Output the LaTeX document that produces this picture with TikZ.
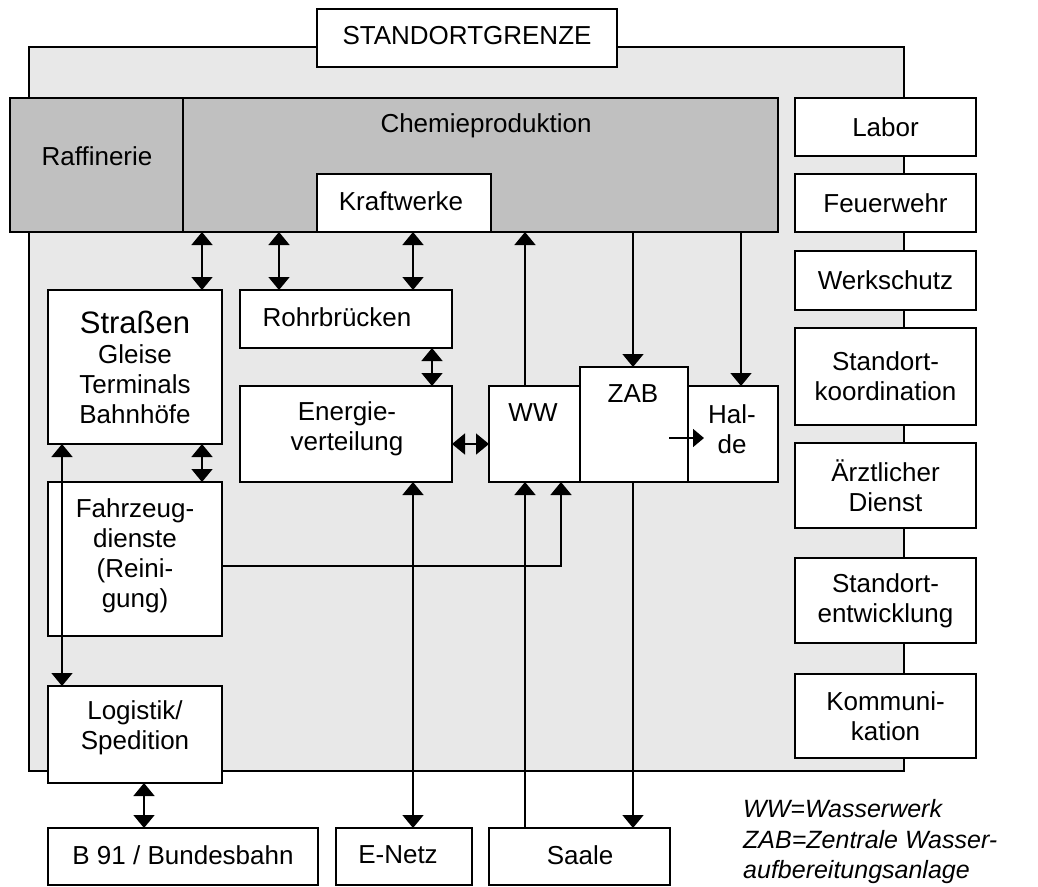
\documentclass[tikz,border=0pt]{standalone}
\usepackage{fontspec}
\setmainfont{Liberation Sans}
\usetikzlibrary{arrows.meta}
\definecolor{lgrey}{HTML}{E8E8E8}
\definecolor{dgrey}{HTML}{C0C0C0}
\newcommand\fs{\fontsize{26}{30}\selectfont}
\newcommand\fsbig{\fontsize{31}{33}\selectfont}
\newcommand\fsleg{\fontsize{25}{30.5}\selectfont\itshape}
\begin{document}
\begin{tikzpicture}[x=1pt,y=-1pt,
 box/.style={draw, line width=1.8pt, fill=white, inner sep=0pt, outer sep=0pt, align=center, font=\fs},
 dark/.style={box, fill=dgrey},
 region/.style={draw, line width=1.4pt, fill=lgrey, inner sep=0pt, outer sep=0pt},
 txt/.style={inner sep=0pt, align=center, font=\fs},
 arr/.style={-{Triangle[width=21pt,length=13pt]}, line width=1.6pt},
 dbl/.style={{Triangle[width=21pt,length=13pt]}-{Triangle[width=21pt,length=13pt]}, line width=1.6pt},
 small/.style={-{Triangle[width=18pt,length=11pt]}, line width=1.5pt},
]
\useasboundingbox (0,0) rectangle (1038,886);

% site region
\node[region, minimum width=875pt, minimum height=724pt] (site) at (466.5,409) {};
\node[box, minimum width=300pt, minimum height=58pt] (grenze) at (467,38) {};
\node[txt] (grenzeT) at (467,36) {STANDORTGRENZE};

% production block
\node[dark, minimum width=173pt, minimum height=134pt] (raff) at (96.5,165) {};
\node[txt] (raffT) at (97,156) {Raffinerie};
\node[dark, minimum width=595pt, minimum height=134pt] (chem) at (480.5,165) {};
\node[txt] (chemT) at (486,126) {Chemieproduktion};
\node[box, minimum width=174pt, minimum height=58pt] (kw) at (404,203) {};
\node[txt] (kwT) at (401,201) {Kraftwerke};

% right column
\node[box, minimum width=181pt, minimum height=58pt] (labor) at (885.5,127) {Labor};
\node[box, minimum width=181pt, minimum height=58pt] (feuer) at (885.5,203) {Feuerwehr};
\node[box, minimum width=181pt, minimum height=59pt] (werk) at (885.5,280.5) {Werkschutz};
\node[box, minimum width=181pt, minimum height=97pt] (koord) at (885.5,376.5) {Standort-\\koordination};
\node[box, minimum width=181pt, minimum height=85pt] (arzt) at (885.5,485.5) {Ärztlicher\\Dienst};
\node[box, minimum width=181pt, minimum height=85pt] (entw) at (885.5,600.5) {Standort-\\entwicklung};
\node[box, minimum width=181pt, minimum height=84pt] (komm) at (885.5,716) {Kommuni-\\kation};

% infrastructure
\node[box, minimum width=174pt, minimum height=154pt] (str) at (135,367) {{\fsbig Straßen}\\Gleise\\Terminals\\Bahnhöfe};
\node[box, minimum width=212pt, minimum height=58pt] (rohr) at (346,319) {};
\node[txt] (rohrT) at (337,317) {Rohrbrücken};
\node[box, minimum width=212pt, minimum height=96pt] (energ) at (346,434) {};
\node[txt] (energT) at (347,429) {Energie-\\verteilung};
\node[box, minimum width=91pt, minimum height=96pt] (ww) at (534.5,434) {};
\node[txt] (wwT) at (533,413) {WW};
\node[box, minimum width=108pt, minimum height=115pt] (zab) at (634,424.5) {};
\node[txt] (zabT) at (633,394) {ZAB};
\node[box, minimum width=90pt, minimum height=96pt] (halde) at (733,434) {};
\node[txt] (haldeT) at (732,429) {Hal-\\de};
\node[box, minimum width=174pt, minimum height=154pt] (fahr) at (135,559) {};
\node[txt] (fahrT) at (135,556) {Fahrzeug-\\dienste\\(Reini-\\gung)};
\node[box, minimum width=174pt, minimum height=97pt] (logi) at (135,734.5) {};
\node[txt] (logiT) at (135,728) {Logistik/\\Spedition};

% outside
\node[box, minimum width=270pt, minimum height=57pt] (b91) at (183,856.5) {};
\node[txt] (b91T) at (183,855) {B 91 / Bundesbahn};
\node[box, minimum width=136pt, minimum height=57pt] (enetz) at (404,856.5) {};
\node[txt] (enetzT) at (398,855) {E-Netz};
\node[box, minimum width=181pt, minimum height=57pt] (saale) at (579.5,856.5) {};
\node[txt] (saaleT) at (580,855) {Saale};

% legend
\node[inner sep=0pt, align=left, font=\fsleg, anchor=west] (legend) at (743,842) {WW=Wasserwerk\\ZAB=Zentrale Wasser-\\aufbereitungsanlage};

% helper coordinates
\coordinate (x62) at (62,0);
\coordinate (x144) at (144,0);
\coordinate (x202) at (202,0);
\coordinate (x279) at (279,0);
\coordinate (x413) at (413,0);
\coordinate (x432) at (432,0);
\coordinate (x525) at (525,0);
\coordinate (x561) at (561,0);
\coordinate (x633) at (633,0);
\coordinate (x741) at (741,0);
\coordinate (y444) at (0,444);
\coordinate (y566) at (0,566);
\coordinate (za) at (669,438);
\coordinate (hb) at (704,438);

% connectors
\draw[dbl] (chem.south -| x202) -- (str.north -| x202);
\draw[dbl] (chem.south -| x279) -- (rohr.north -| x279);
\draw[dbl] (kw.south -| x413) -- (rohr.north -| x413);
\draw[dbl] (rohr.south -| x432) -- (energ.north -| x432);
\draw[dbl] (energ.east |- y444) -- (ww.west |- y444);
\draw[arr] (ww.north -| x525) -- (chem.south -| x525);
\draw[arr] (chem.south -| x633) -- (zab.north -| x633);
\draw[arr] (chem.south -| x741) -- (halde.north -| x741);
\draw[small] (za) -- (hb);
\draw[dbl] (str.south -| x62) -- (logi.north -| x62);
\draw[dbl] (str.south -| x202) -- (fahr.north -| x202);
\draw[dbl] (logi.south -| x144) -- (b91.north -| x144);
\draw[dbl] (energ.south -| x413) -- (enetz.north -| x413);
\draw[arr] (saale.north -| x525) -- (ww.south -| x525);
\draw[arr] (zab.south -| x633) -- (saale.north -| x633);
\draw[arr] (fahr.east |- y566) -| (ww.south -| x561);
\end{tikzpicture}
\end{document}
